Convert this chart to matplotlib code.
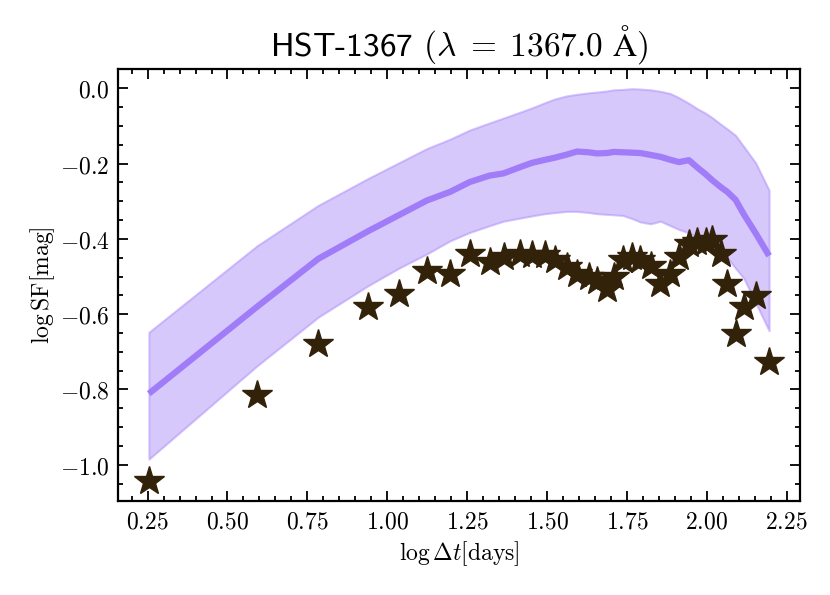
import matplotlib
matplotlib.use("Agg")
import matplotlib.pyplot as plt
from matplotlib.ticker import MultipleLocator, FormatStrFormatter

plt.rcParams['mathtext.fontset'] = 'cm'
plt.rcParams['font.family'] = ['DejaVu Sans']

# observed structure function (stars)
log_dt = [0.254, 0.593, 0.784, 0.939, 1.036, 1.124, 1.197, 1.258, 1.32, 1.364,
          1.414, 1.453, 1.494, 1.526, 1.562, 1.594, 1.63, 1.656, 1.688, 1.709,
          1.738, 1.766, 1.792, 1.824, 1.855, 1.886, 1.913, 1.944, 1.97, 1.996,
          2.017, 2.043, 2.064, 2.09, 2.116, 2.153, 2.195]
log_sf_obs = [-1.044, -0.815, -0.679, -0.582, -0.546, -0.486, -0.492, -0.44, -0.462, -0.449,
              -0.44, -0.444, -0.444, -0.457, -0.475, -0.493, -0.502, -0.511, -0.533, -0.502,
              -0.457, -0.449, -0.457, -0.471, -0.519, -0.493, -0.449, -0.413, -0.409, -0.409,
              -0.404, -0.44, -0.519, -0.652, -0.582, -0.551, -0.728]
# model median and band
log_sf_med = [-0.811, -0.58, -0.453, -0.38, -0.337, -0.298, -0.275, -0.249, -0.232, -0.226,
              -0.21, -0.198, -0.19, -0.184, -0.176, -0.168, -0.170, -0.173, -0.172, -0.169,
              -0.170, -0.171, -0.172, -0.177, -0.182, -0.190, -0.196, -0.191, -0.21, -0.228,
              -0.244, -0.262, -0.275, -0.296, -0.335, -0.385, -0.445]
log_sf_hi = [-0.648, -0.418, -0.311, -0.24, -0.198, -0.16, -0.135, -0.111, -0.092, -0.079,
             -0.064, -0.052, -0.038, -0.028, -0.02, -0.016, -0.012, -0.010, -0.007, -0.004,
             -0.003, -0.001, -0.002, -0.004, -0.008, -0.014, -0.025, -0.040, -0.054, -0.066,
             -0.078, -0.095, -0.108, -0.125, -0.155, -0.198, -0.271]
log_sf_lo = [-0.985, -0.737, -0.608, -0.525, -0.478, -0.44, -0.405, -0.383, -0.365, -0.353,
             -0.345, -0.339, -0.333, -0.330, -0.327, -0.327, -0.330, -0.333, -0.335, -0.336,
             -0.338, -0.346, -0.355, -0.360, -0.353, -0.365, -0.375, -0.384, -0.396, -0.406,
             -0.415, -0.43, -0.45, -0.478, -0.505, -0.57, -0.644]

title_name = "HST-1367"
title_wave = r"$(\lambda\;=\;1367.0\ \mathrm{\AA})$"
xlabel = r"$\log\Delta t[\mathrm{days}]$"
ylabel = r"$\log\mathrm{SF}[\mathrm{mag}]$"

fig = plt.figure(figsize=(8.3, 5.95), dpi=100)
ax = fig.add_axes([0.142, 0.158, 0.822, 0.726])

ax.fill_between(log_dt, log_sf_lo, log_sf_hi, facecolor='#a07cf8', alpha=0.42,
                edgecolor='#a07cf8', linewidth=1.5)
ax.plot(log_dt, log_sf_med, color='#a07cf8', lw=4.5, solid_capstyle='butt')
ax.plot(log_dt, log_sf_obs, ls='none', marker='*', ms=22, color='#33220a',
        markeredgecolor='#33220a')

ax.xaxis.set_major_locator(MultipleLocator(0.25))
ax.xaxis.set_minor_locator(MultipleLocator(0.05))
ax.yaxis.set_major_locator(MultipleLocator(0.2))
ax.yaxis.set_minor_locator(MultipleLocator(0.05))
ax.xaxis.set_major_formatter(FormatStrFormatter(r'$%.2f$'))
ax.yaxis.set_major_formatter(FormatStrFormatter(r'$%.1f$'))
ax.tick_params(which='both', direction='in', top=True, right=True, width=1.3, labelsize=17)
ax.tick_params(which='major', length=7, pad=6)
ax.tick_params(which='minor', length=3.5)
for s in ax.spines.values():
    s.set_linewidth(1.6)

ax.set_xlabel(xlabel, fontsize=17, labelpad=4)
ax.set_ylabel(ylabel, fontsize=17, labelpad=2)

ax.set_title(title_name + " " + title_wave, fontsize=24, family='cmss10', pad=10)

fig.savefig("out.png", dpi=100)
